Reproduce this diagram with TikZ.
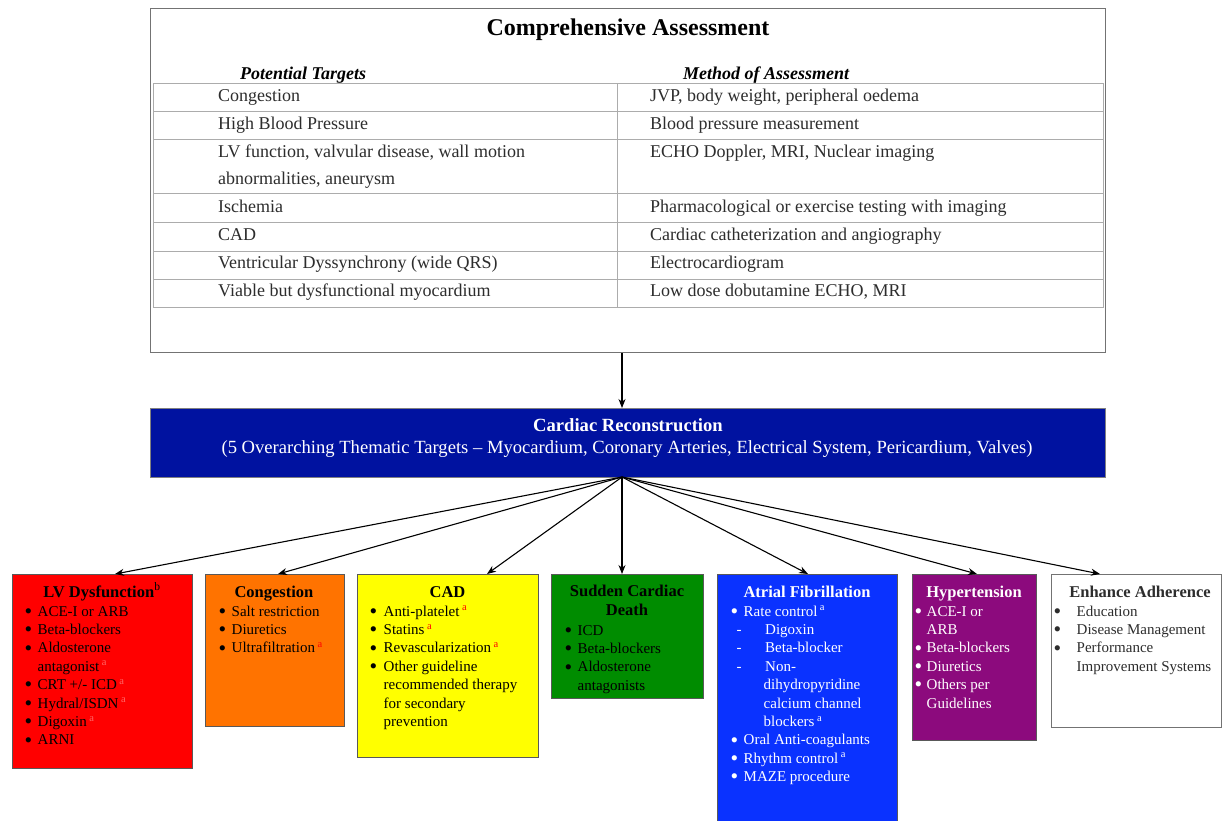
\documentclass[tikz,border=0pt]{standalone}
\usepackage{fontspec}
\setmainfont{Liberation Serif}
\usetikzlibrary{arrows.meta}
\definecolor{barblue}{RGB}{0,18,160}
\definecolor{cred}{RGB}{255,0,0}
\definecolor{corange}{RGB}{255,115,0}
\definecolor{cyellow}{RGB}{255,255,0}
\definecolor{cgreen}{RGB}{0,140,0}
\definecolor{cblue}{RGB}{10,50,255}
\definecolor{cpurple}{RGB}{140,10,125}
\definecolor{tgray}{RGB}{45,45,45}
\newcommand\mydot{\smash{\raisebox{-2.3pt}{\scalebox{1.45}{\textbullet}}}}
\newcommand\myb[2]{\makebox[#1][l]{\mydot}#2}
\newcommand\mysup[2]{\,\textsuperscript{\color{#1}#2}}
\tikzset{
  box/.style={draw=black!65, line width=0.8pt, anchor=north west, inner sep=0pt},
  tcell/.style={anchor=base west, inner sep=0pt, font=\fontsize{18}{27}\selectfont, text=tgray},
  ttl/.style={anchor=base, inner sep=0pt, font=\fontsize{16.5}{19.5}\selectfont\bfseries},
  lst/.style={anchor=base west, inner sep=0pt, font=\fontsize{15}{18.4}\selectfont},
  arr/.style={-{Stealth[length=9pt,width=7pt]}, line width=1.1pt, black},
  tline/.style={draw=gray!65, line width=1pt},
}
\begin{document}
\begin{tikzpicture}[x=1pt,y=-1pt]
\useasboundingbox (0,0) rectangle (1222,820);
\fill[white] (0,0) rectangle (1222,820);

% ---------- Comprehensive Assessment ----------
\node[box, draw=black!55, line width=1.1pt, minimum width=955, minimum height=344] (ca) at (150,8) {};
\node[anchor=base, inner sep=0pt, font=\fontsize{24}{28}\selectfont\bfseries] (caT) at (628,35) {Comprehensive Assessment};
\node[anchor=base west, inner sep=0pt, font=\fontsize{18}{22}\selectfont\bfseries\itshape] (hdA) at (240,79) {Potential Targets};
\node[anchor=base west, inner sep=0pt, font=\fontsize{18}{22}\selectfont\bfseries\itshape] (hdB) at (683,79) {Method of Assessment};

\draw[tline] (153,83) rectangle (1103,307);
\foreach \yy in {111,139,193,222,251,279} \draw[tline] (153,\yy) -- (1103,\yy);
\draw[tline] (617,83) -- (617,307);

\node[tcell] (a1) at (218,101) {Congestion};
\node[tcell] (a2) at (218,129) {High Blood Pressure};
\node[tcell] (a3) at (218,157) {\begin{tabular}[t]{@{}l@{}}LV function, valvular disease, wall motion\\abnormalities, aneurysm\end{tabular}};
\node[tcell] (a4) at (218,212) {Ischemia};
\node[tcell] (a5) at (218,240) {CAD};
\node[tcell] (a6) at (218,268) {Ventricular Dyssynchrony (wide QRS)};
\node[tcell] (a7) at (218,296) {Viable but dysfunctional myocardium};

\node[tcell] (b1) at (650,101) {JVP, body weight, peripheral oedema};
\node[tcell] (b2) at (650,129) {Blood pressure measurement};
\node[tcell] (b3) at (650,157) {ECHO Doppler, MRI, Nuclear imaging};
\node[tcell] (b4) at (650,212) {Pharmacological or exercise testing with imaging};
\node[tcell] (b5) at (650,240) {Cardiac catheterization and angiography};
\node[tcell] (b6) at (650,268) {Electrocardiogram};
\node[tcell] (b7) at (650,296) {Low dose dobutamine ECHO, MRI};

% ---------- Cardiac Reconstruction ----------
\node[box, fill=barblue, draw=black!50, minimum width=955, minimum height=69] (cr) at (150,408) {};
\node[anchor=base, inner sep=0pt, text=white, font=\fontsize{18.6}{22}\selectfont\bfseries] (crT) at (628,431) {Cardiac Reconstruction};
\node[anchor=base, inner sep=0pt, text=white, font=\fontsize{18.6}{22}\selectfont] (crS) at (627,453) {(5 Overarching Thematic Targets – Myocardium, Coronary Arteries, Electrical System, Pericardium, Valves)};

\coordinate (fan) at (622,477);
\draw[arr] (ca.south -| fan) -- (cr.north -| fan);

% ---------- Boxes ----------
\node[box, fill=cred, minimum width=180, minimum height=194] (lv) at (12,574) {};
\node[box, fill=corange, minimum width=139, minimum height=152] (cg) at (205,574) {};
\node[box, fill=cyellow, minimum width=181, minimum height=183] (cad) at (357,574) {};
\node[box, fill=cgreen, minimum width=152, minimum height=124] (scd) at (551,574) {};
\node[box, fill=cblue, minimum width=180, minimum height=252] (af) at (717,574) {};
\node[box, fill=cpurple, minimum width=124, minimum height=166] (hy) at (912,574) {};
\node[box, fill=white, draw=black!55, minimum width=170, minimum height=153] (ea) at (1051,574) {};

% LV Dysfunction
\node[ttl] (lvT) at (102,597) {LV Dysfunction\textsuperscript{\mdseries b}};
\node[lst] (lvL) at (24.5,616) {\begin{tabular}[t]{@{}l@{}}
\myb{13pt}{ACE-I or ARB}\\
\myb{13pt}{Beta-blockers}\\
\myb{13pt}{Aldosterone}\\
\hspace*{13pt}antagonist\mysup{red!60!white}{a}\\
\myb{13pt}{CRT +/- ICD\mysup{red!60!white}{a}}\\
\myb{13pt}{Hydral/ISDN\mysup{red!60!white}{a}}\\
\myb{13pt}{Digoxin\mysup{red!60!white}{a}}\\
\myb{13pt}{ARNI}
\end{tabular}};

% Congestion
\node[ttl] (cgT) at (274,597) {Congestion};
\node[lst] (cgL) at (218.5,616) {\begin{tabular}[t]{@{}l@{}}
\myb{13pt}{Salt restriction}\\
\myb{13pt}{Diuretics}\\
\myb{13pt}{Ultrafiltration\mysup{red}{a}}
\end{tabular}};

% CAD
\node[ttl] (cadT) at (447.5,597) {CAD};
\node[lst] (cadL) at (369.5,616) {\begin{tabular}[t]{@{}l@{}}
\myb{14pt}{Anti-platelet\mysup{red}{a}}\\
\myb{14pt}{Statins\mysup{red}{a}}\\
\myb{14pt}{Revascularization\mysup{red}{a}}\\
\myb{14pt}{Other guideline}\\
\hspace*{14pt}recommended therapy\\
\hspace*{14pt}for secondary\\
\hspace*{14pt}prevention
\end{tabular}};

% Sudden Cardiac Death
\node[ttl] (scdT) at (627,596) {\begin{tabular}[t]{@{}c@{}}Sudden Cardiac\\Death\end{tabular}};
\node[lst] (scdL) at (564.5,635) {\begin{tabular}[t]{@{}l@{}}
\myb{13pt}{ICD}\\
\myb{13pt}{Beta-blockers}\\
\myb{13pt}{Aldosterone}\\
\hspace*{13pt}antagonists
\end{tabular}};

% Atrial Fibrillation
\node[ttl, text=white] (afT) at (807,597) {Atrial Fibrillation};
\node[lst, text=white] (afL) at (730.5,616) {\begin{tabular}[t]{@{}l@{}}
\myb{13pt}{Rate control\mysup{white}{a}}\\
\hspace*{6pt}\makebox[28.5pt][l]{-}Digoxin\\
\hspace*{6pt}\makebox[28.5pt][l]{-}Beta-blocker\\
\hspace*{6pt}\makebox[28.5pt][l]{-}Non-\\
\hspace*{33pt}dihydropyridine\\
\hspace*{33pt}calcium channel\\
\hspace*{33pt}blockers\mysup{white}{a}\\
\myb{13pt}{Oral Anti-coagulants}\\
\myb{13pt}{Rhythm control\mysup{white}{a}}\\
\myb{13pt}{MAZE procedure}
\end{tabular}};

% Hypertension
\node[ttl, text=white] (hyT) at (974,597) {Hypertension};
\node[lst, text=white] (hyL) at (914.5,616) {\begin{tabular}[t]{@{}l@{}}
\myb{12pt}{ACE-I or}\\
\hspace*{12pt}ARB\\
\myb{12pt}{Beta-blockers}\\
\myb{12pt}{Diuretics}\\
\myb{12pt}{Others per}\\
\hspace*{12pt}Guidelines
\end{tabular}};

% Enhance Adherence
\node[ttl, text=tgray] (eaT) at (1140,597) {Enhance Adherence};
\node[lst, text=tgray] (eaL) at (1053.5,616) {\begin{tabular}[t]{@{}l@{}}
\myb{23pt}{Education}\\
\myb{23pt}{Disease Management}\\
\myb{23pt}{Performance}\\
\hspace*{23pt}Improvement Systems
\end{tabular}};

% ---------- Fan arrows ----------
\draw[arr] (fan) -- ([xshift=103pt]lv.north west);
\draw[arr] (fan) -- ([xshift=73pt]cg.north west);
\draw[arr] (fan) -- ([xshift=130pt]cad.north west);
\draw[arr] (fan) -- ([xshift=71pt]scd.north west);
\draw[arr] (fan) -- ([xshift=91pt]af.north west);
\draw[arr] (fan) -- ([xshift=65pt]hy.north west);
\draw[arr] (fan) -- ([xshift=49pt]ea.north west);
\end{tikzpicture}
\end{document}
